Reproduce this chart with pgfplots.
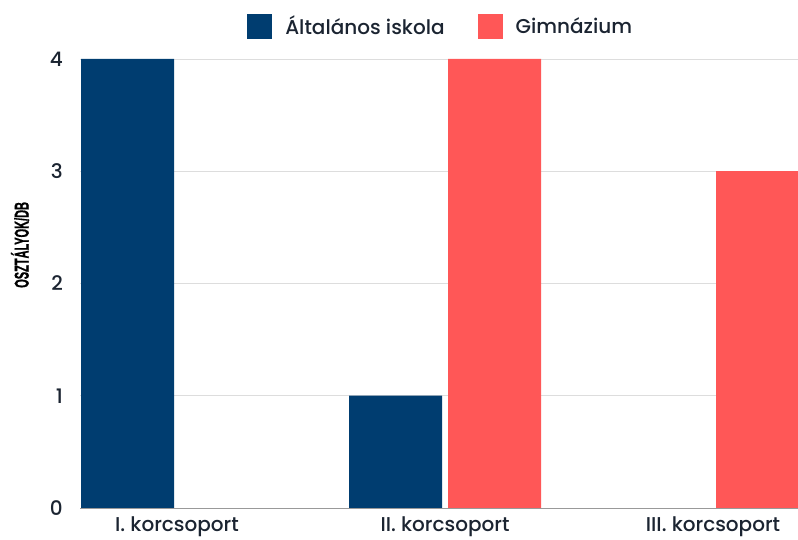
\documentclass[border=0pt]{standalone}
\usepackage{pgfplots}
\pgfplotsset{compat=1.18}
\usepackage{fontspec}
\setmainfont{Poppins}[UprightFont=* Medium, BoldFont=* Bold]
\newfontfamily\condfont{Liberation Sans}[BoldFeatures={FakeBold=1.2}]
\definecolor{navy}{HTML}{003D70}
\definecolor{coral}{HTML}{FF5757}
\definecolor{txt}{HTML}{1B2431}
\definecolor{gridc}{HTML}{DDDDDD}
\definecolor{basec}{HTML}{999999}

\begin{document}
\begin{tikzpicture}
\path[use as bounding box] (0,0) rectangle (798pt,540pt);
\begin{axis}[
    at={(80pt,32pt)}, anchor=south west,
    scale only axis,
    width=718pt, height=449pt,
    xmin=-0.362, xmax=2.317,
    ymin=0, ymax=4,
    ybar=6pt, bar width=93pt,
    xtick={0,1,2},
    xticklabels={I. korcsoport, II. korcsoport, III. korcsoport},
    ytick={0,1,2,3,4},
    major tick length=0pt,
    ymajorgrids,
    grid style={gridc, line width=0.8pt},
    axis x line*=bottom,
    axis y line*=left,
    x axis line style={basec, line width=0.8pt, -},
    y axis line style={draw=none},
    /pgf/number format/assume math mode=true,
    ticklabel style={font=\fontsize{20}{24}\selectfont, text=txt},
    yticklabel style={inner sep=0pt, xshift=-17pt},
    xticklabel style={inner sep=0pt, yshift=-9pt, anchor=north},
    ylabel={\condfont\bfseries\scalebox{0.55}[1]{OSZTÁLYOK/DB}},
    ylabel style={at={(axis description cs:-0.0836,0.586)}, anchor=center, font=\fontsize{20}{24}\selectfont, text=black},
    legend columns=2,
    legend style={at={(axis description cs:0.501,1)}, anchor=south, yshift=18pt,
        draw=none, fill=none, font=\fontsize{20}{24}\selectfont, text=txt,
        nodes={inner sep=0pt},
        /tikz/every even column/.append style={column sep=33pt}},
    legend image code/.code={\fill[#1] (0pt,-12.5pt) rectangle (25pt,12.5pt); \path (38pt,0pt);},
]
\addplot[fill=navy, draw=none] coordinates {(0,4) (1,1)};
\addplot[fill=coral, draw=none] coordinates {(1,4) (2,3)};
\legend{Általános iskola, Gimnázium}
\end{axis}
\end{tikzpicture}
\end{document}
